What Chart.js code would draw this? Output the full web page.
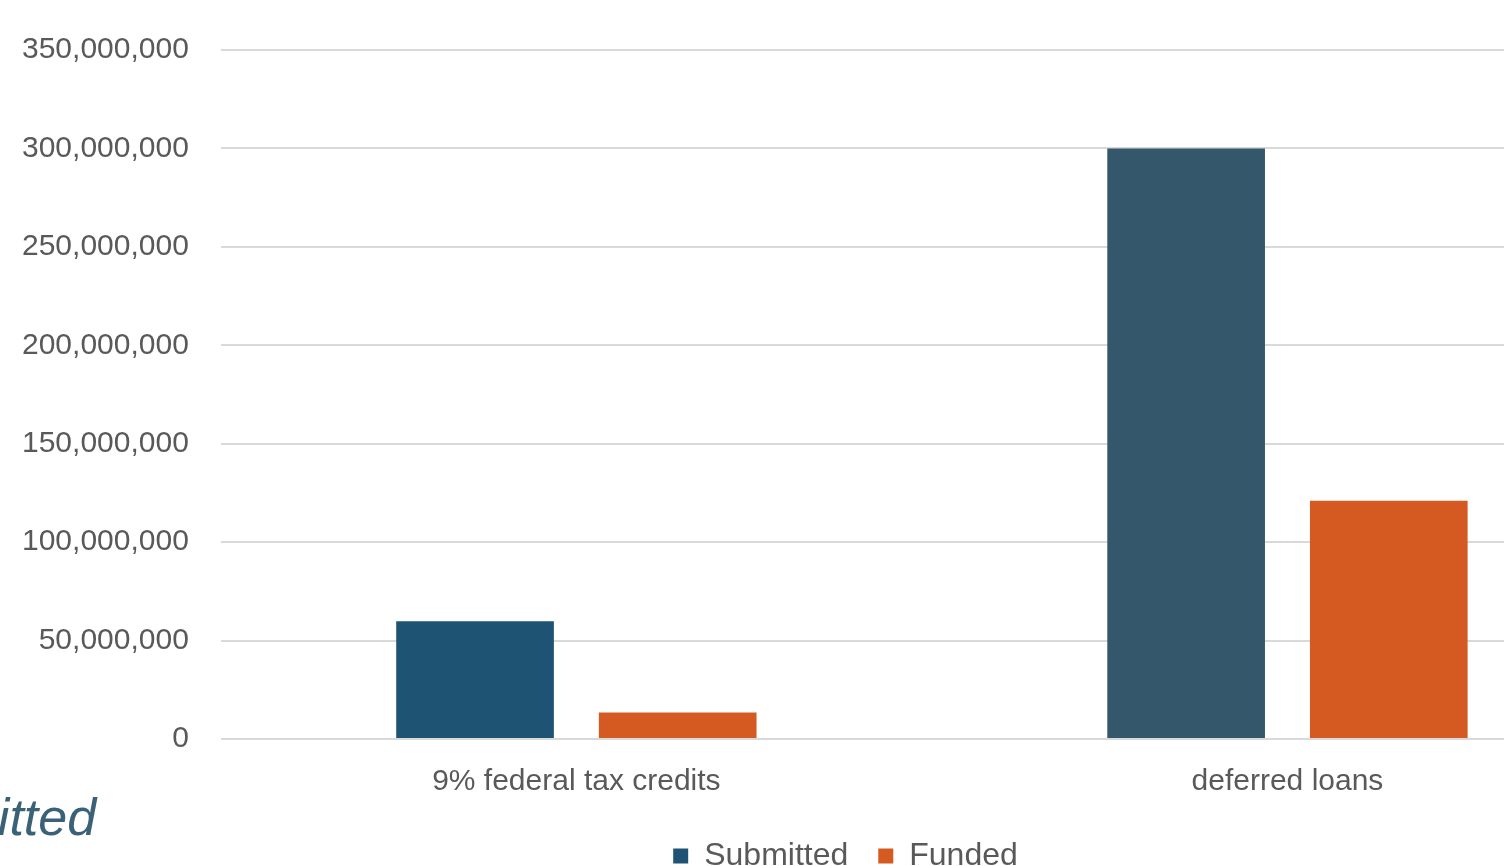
<!DOCTYPE html>
<html>
<head>
<meta charset="utf-8">
<script src="https://cdn.jsdelivr.net/npm/chart.js@4"></script>
<style>
  html, body { margin: 0; padding: 0; background: #fff; overflow: hidden; width: 1504px; height: 866px; }
  #wrap { position: absolute; left: -10px; top: 0; width: 1653px; height: 900px; }
  #side {
    position: absolute; left: -138px; top: 787px;
    font: italic 52px "Liberation Sans", Arial, sans-serif; color: #3a6176;
    white-space: nowrap;
  }
</style>
</head>
<body>
<div id="wrap"><canvas id="chart" width="1653" height="900"></canvas></div>
<div id="side">Submitted</div>
<script>
const categories = ["9% federal tax credits", "deferred loans"];
const submitted = [59800000, 300000000];
const funded = [13400000, 121000000];
const seriesNames = ["Submitted", "Funded"];

const colors = new Map([
  ["SUBMITTED", "#1f5374"],
  ["SUBMITTED_2", "#35576b"],
  ["FUNDED", "#d55a22"],
  ["TEXT", "#595959"],
  ["GRID", "#d9d9d9"],
]);

const font = "'Liberation Sans', Arial, sans-serif";

// legend sits a bit right of / above where chart.js would put it
const shiftLegend = {
  id: "shiftLegend",
  afterLayout(chart) {
    chart.legend.left += 29;
    chart.legend.right += 29;
    chart.legend.top -= 15;
    chart.legend.bottom -= 15;
  },
};

const chartConfig = {
  type: "bar",
  data: {
    labels: categories,
    datasets: [
      {
        label: seriesNames[0],
        data: submitted,
        backgroundColor: [colors.get("SUBMITTED"), colors.get("SUBMITTED_2")],
        categoryPercentage: 0.57,
        barPercentage: 0.778,
      },
      {
        label: seriesNames[1],
        data: funded,
        backgroundColor: colors.get("FUNDED"),
        categoryPercentage: 0.57,
        barPercentage: 0.778,
      },
    ],
  },
  options: {
    responsive: false,
    animation: false,
    layout: {
      padding: { left: 0, top: 48, right: 0, bottom: 3 },
    },
    scales: {
      x: {
        grid: { display: false, drawTicks: false },
        border: { display: false },
        ticks: {
          color: colors.get("TEXT"),
          font: { family: font, size: 30 },
          padding: 25,
        },
      },
      y: {
        min: 0,
        max: 350000000,
        grid: {
          color: colors.get("GRID"),
          lineWidth: 2,
          drawTicks: false,
        },
        border: { display: false },
        ticks: {
          stepSize: 50000000,
          color: colors.get("TEXT"),
          font: { family: font, size: 30 },
          padding: 32,
          callback: (v) => v.toLocaleString("en-US"),
        },
      },
    },
    plugins: {
      legend: {
        position: "bottom",
        labels: {
          color: colors.get("TEXT"),
          font: { family: font, size: 32 },
          boxWidth: 15,
          boxHeight: 15,
          padding: 30,
          generateLabels: (chart) =>
            chart.data.datasets.map((ds, i) => ({
              text: ds.label,
              fillStyle: i === 0 ? colors.get("SUBMITTED") : colors.get("FUNDED"),
              strokeStyle: "transparent",
              lineWidth: 0,
              fontColor: colors.get("TEXT"),
              datasetIndex: i,
            })),
        },
      },
      tooltip: { enabled: false },
    },
  },
  plugins: [shiftLegend],
};

window.mainChart = new Chart(document.getElementById("chart"), chartConfig);
</script>
</body>
</html>
